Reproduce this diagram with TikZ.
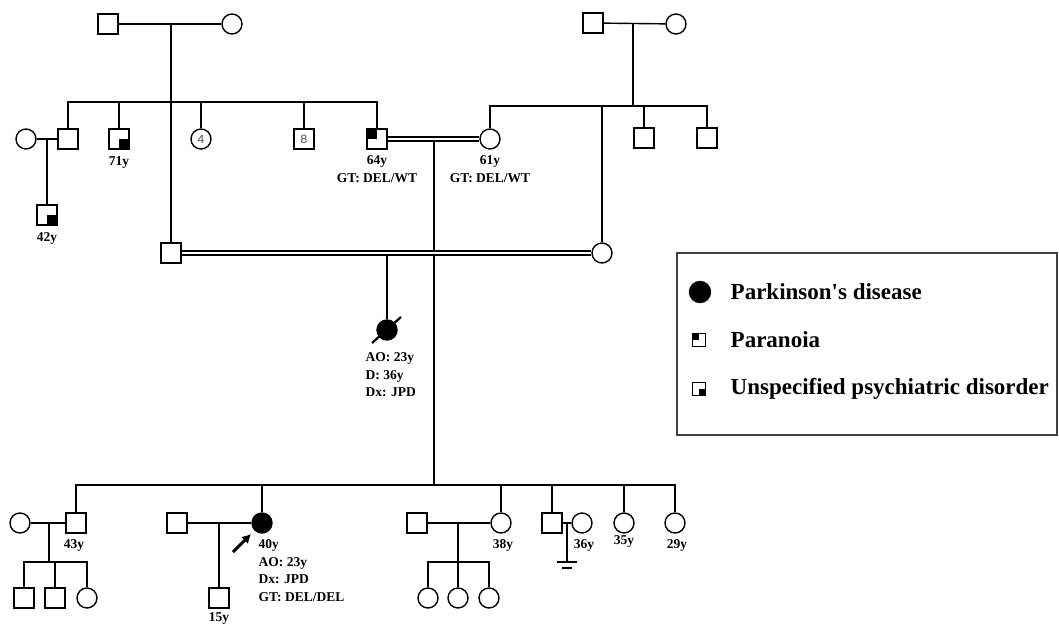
\documentclass[tikz,border=0pt]{standalone}
\usepackage{fontspec}
\setmainfont{Liberation Serif}
\newfontfamily\numfont{Liberation Sans}
\usetikzlibrary{arrows.meta}

\begin{document}
\begin{tikzpicture}[x=1pt, y=-1pt, line width=1.4pt,
  male/.style={rectangle, draw, fill=white, minimum size=20pt, inner sep=0pt},
  female/.style={circle, draw, fill=white, minimum size=20pt, inner sep=0pt},
  pd/.style={fill=black},
  para/.style={path picture={\fill[black] (path picture bounding box.north west)
               rectangle (path picture bounding box.center);}},
  psy/.style={path picture={\fill[black] (path picture bounding box.south east)
              rectangle (path picture bounding box.center);}},
  small/.style={minimum size=13pt, line width=1.3pt},
  cnt/.style={font=\numfont\fontsize{12}{12}\selectfont, text=black!70},
  dbl/.style={double, double distance=2.8pt, line width=1.2pt},
  lab/.style={font=\fontsize{13.5}{17.5}\selectfont\bfseries, inner sep=0pt, align=center},
  legtxt/.style={font=\fontsize{23}{26}\selectfont\bfseries, inner sep=0pt, anchor=west},
]
\useasboundingbox (0,0) rectangle (1059,626);

% ---- generation I: two couples
\node[male] (gfL) at (108,24) {};
\node[female] (gmL) at (232,24) {};
\node[male] (gfR) at (593,23) {};
\node[female] (gmR) at (676,24) {};
\coordinate (cpL) at (171,24);
\coordinate (cpR) at (633,24);
\coordinate (sibL) at (171,102);
\coordinate (sibR) at (633,106);
\draw (gfL) -- (gmL);
\draw (gfR) -- (gmR);

% ---- generation II
\node[female] (wife1) at (26,139) {};
\node[male] (unc1) at (68,139) {};
\node[male, psy] (unc71) at (119,139) {};
\node[female, cnt] (aunts) at (201,139) {4};
\node[male, cnt] (uncs) at (304,139) {8};
\node[male, para] (fa) at (377,139) {};
\node[female] (mo) at (490,139) {};
\node[male] (unR1) at (644,138) {};
\node[male] (unR2) at (707,138) {};
\node[male, psy] (cous42) at (47,215) {};
\node[male] (ma) at (171,253) {};
\node[female] (fe) at (602,253) {};
\coordinate (cp1) at (47,139);
\coordinate (cpP) at (434,139);
\coordinate (cpM) at (387,253);

\draw (cpL) -- (ma);
\draw (unc1.north) |- (sibL) -| (fa.north);
\draw (unc71.north) -- (unc71.north |- sibL);
\draw (aunts.north) -- (aunts.north |- sibL);
\draw (uncs.north) -- (uncs.north |- sibL);
\draw (cpR) -- (sibR);
\draw (mo.north) |- (sibR) -| (unR2.north);
\draw (unR1.north) -- (unR1.north |- sibR);
\draw (fe.north) -- (fe.north |- sibR);
\draw (wife1) -- (unc1);
\draw (cp1) -- (cous42);

% ---- generation III
\node[female, pd] (dec) at (387,330) {};
\coordinate (sibB) at (434,485);
\draw (cpM) -- (dec);
\draw (cpP) -- (sibB);
\draw[dbl] (fa) -- (mo);
\draw[dbl] (ma) -- (fe);
\draw[line width=2.2pt] ([shift={(-15,13)}]dec.center) -- ([shift={(14,-13)}]dec.center);

\node[female] (w43) at (20,523) {};
\node[male] (sib43) at (76,523) {};
\node[male] (h40) at (177,523) {};
\node[female, pd] (prb) at (262,523) {};
\node[male] (h38) at (417,523) {};
\node[female] (sib38) at (501,523) {};
\node[male] (sib36) at (552,523) {};
\node[female] (w36) at (582,523) {};
\node[female] (sib35) at (624,523) {};
\node[female] (sib29) at (675,523) {};

\draw (sib43.north) |- (sibB) -| (sib29.north);
\draw (prb.north) -- (prb.north |- sibB);
\draw (sib38.north) -- (sib38.north |- sibB);
\draw (sib36.north) -- (sib36.north |- sibB);
\draw (sib35.north) -- (sib35.north |- sibB);
\draw (w43) -- (sib43);
\draw (h40) -- (prb);
\draw (h38) -- (sib38);
\draw (sib36) -- (w36);

% ---- generation IV
\node[male] (k1) at (24,598) {};
\node[male] (k2) at (55,598) {};
\node[female] (k3) at (87,598) {};
\node[male] (son15) at (219,598) {};
\node[female] (g1) at (428,598) {};
\node[female] (g2) at (458,598) {};
\node[female] (g3) at (489,598) {};
\coordinate (cp43) at (49,523);
\coordinate (sibK1) at (49,562);
\coordinate (cp40) at (219,523);
\coordinate (cp38) at (458,523);
\coordinate (sibK2) at (458,562);
\coordinate (cp36) at (567,523);
\coordinate (inf) at (567,562);

\draw (cp43) -- (sibK1);
\draw (k1.north) |- (sibK1) -| (k3.north);
\draw (k2.north) -- (k2.north |- sibK1);
\draw (cp40) -- (son15);
\draw (cp38) -- (g2);
\draw (g1.north) |- (sibK2) -| (g3.north);
% no children
\draw (cp36) -- (inf);
\draw ([xshift=-10pt]inf) -- ([xshift=10pt]inf);
\draw ([shift={(-5,6)}]inf) -- ([shift={(5,6)}]inf);

% proband arrow
\coordinate (arrS) at (233,552);
\coordinate (arrE) at (251,534);
\draw[-{Latex[length=9pt,width=10pt]}, line width=3pt] (arrS) -- (arrE);

% ---- labels
\node[lab] (l71) at (119,162) {71y};
\node[lab] (l42) at (47,238) {42y};
\node[lab, anchor=north] (l64) at (377,155) {64y\\GT: DEL/WT};
\node[lab, anchor=north] (l61) at (490,155) {61y\\GT: DEL/WT};
\node[lab, anchor=north west, align=left] (ldec) at (365,352) {AO: 23y\\D: 36y\\Dx: JPD};
\node[lab] (l43) at (74,545) {43y};
\node[lab, anchor=north west, align=left] (lprb) at (258,539) {40y\\AO: 23y\\Dx: JPD\\GT: DEL/DEL};
\node[lab] (l15) at (219,618) {15y};
\node[lab] (l38) at (503,545) {38y};
\node[lab] (l36) at (584,545) {36y};
\node[lab] (l35) at (624,541) {35y};
\node[lab] (l29) at (677,545) {29y};

% ---- legend
\node[draw=black!75, line width=1.3pt, minimum width=380pt, minimum height=182pt,
      inner sep=0pt] (legend) at (867,344) {};
\node[female, pd, minimum size=21pt] (kpd) at (700,292) {};
\node[male, small, para] (kpa) at (699,340) {};
\node[male, small, psy] (kps) at (699,389) {};
\node[legtxt] (tpd) at (730,292) {Parkinson\textquotesingle s disease};
\node[legtxt] (tpa) at (730,340) {Paranoia};
\node[legtxt] (tps) at (730,389) {Unspecified psychiatric disorder};
\end{tikzpicture}
\end{document}
